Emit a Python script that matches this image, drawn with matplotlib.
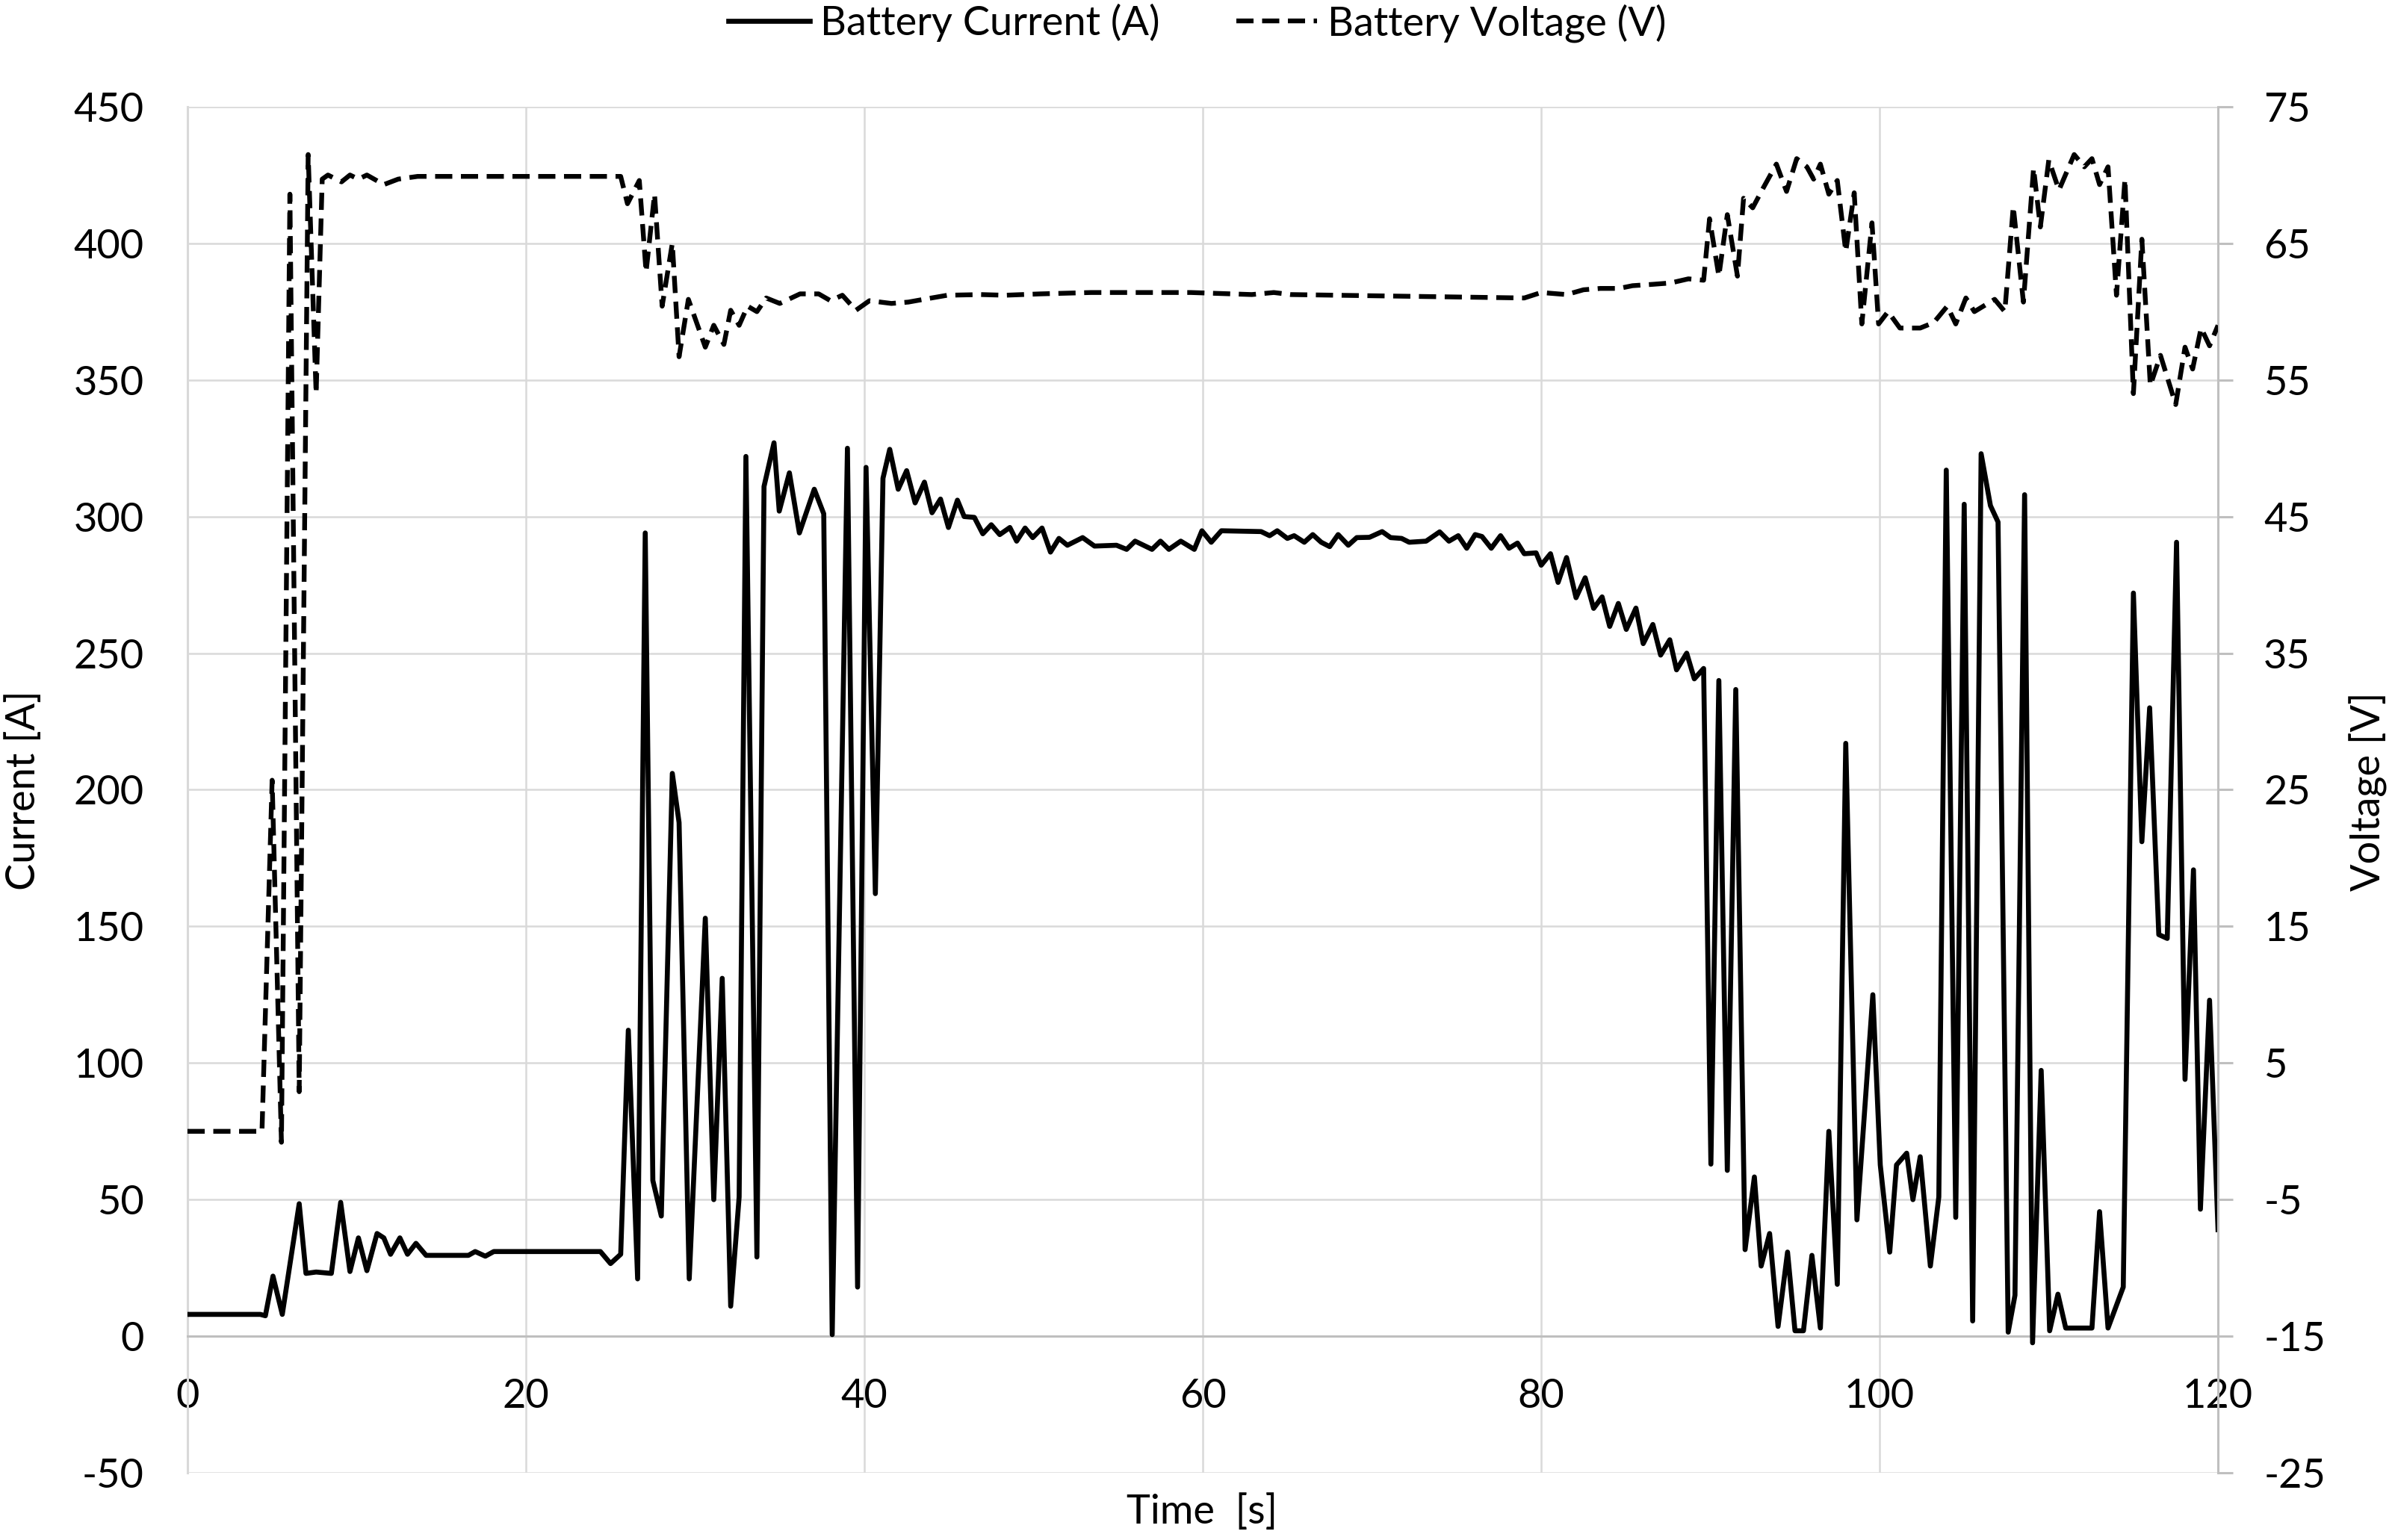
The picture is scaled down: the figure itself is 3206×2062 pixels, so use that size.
import matplotlib
matplotlib.use("Agg")
import matplotlib.pyplot as plt

plt.rcParams['font.family'] = ['Lato', 'DejaVu Sans']
plt.rcParams['axes.unicode_minus'] = False

# battery current (A)
t_cur = [0, 4.3, 4.6, 5.05, 5.6, 6.6, 7.0, 7.6, 8.5, 9.05, 9.6, 10.1, 10.6, 11.2, 11.6,
         12.0, 12.55, 13.0, 13.5, 14.1, 16.6, 17.0, 17.6, 18.1, 24.4, 25.0, 25.6, 26.05,
         26.6, 27.05, 27.5, 28.0, 28.65, 29.05, 29.65, 30.6, 31.1, 31.6, 32.1, 32.6, 33.0,
         33.65, 34.07, 34.66, 34.97, 35.57, 36.16, 37.04, 37.6, 38.1, 39.0, 39.6, 40.1,
         40.65, 41.1, 41.5, 42.0, 42.5, 43.0, 43.55, 44.0, 44.5, 44.97, 45.5, 45.9, 46.5,
         47.0, 47.5, 48.0, 48.6, 49.0, 49.5, 49.95, 50.5, 51.0, 51.5, 52.0, 52.9, 53.6,
         54.9, 55.5, 56.0, 57.0, 57.5, 58.0, 58.7, 59.5, 59.95, 60.5, 61.1, 63.45, 63.95,
         64.4, 65.0, 65.4, 66.0, 66.5, 67.0, 67.5, 68.0, 68.6, 69.1, 69.85, 70.6, 71.1,
         71.75, 72.2, 73.2, 74.0, 74.55, 75.1, 75.6, 76.1, 76.5, 77.05, 77.6, 78.1, 78.6,
         79.0, 79.7, 80.0, 80.55, 81.0, 81.5, 82.06, 82.6, 83.1, 83.6, 84.05, 84.56, 85.03,
         85.6, 86.03, 86.6, 87.06, 87.6, 88.0, 88.6, 89.05, 89.6, 90.03, 90.5, 91.0, 91.5,
         92.05, 92.6, 93.0, 93.5, 94.0, 94.56, 95.0, 95.5, 96.0, 96.5, 97.0, 97.5, 98.0,
         98.66, 99.6, 100.04, 100.6, 101.0, 101.6, 101.97, 102.4, 103.0, 103.5, 103.94,
         104.5, 105.0, 105.5, 106.0, 106.55, 107.0, 107.6, 108.0, 108.57, 109.04, 109.55,
         110.05, 110.54, 111.0, 112.55, 113.0, 113.5, 114.4, 115.0, 115.5, 115.96, 116.5,
         117.0, 117.55, 118.05, 118.55, 118.96, 119.5, 120.0]
current = [8, 8, 7.5, 22, 8, 48.5, 23, 23.5, 23, 49, 23.7, 36, 24, 37.6, 36,
           30, 36, 30, 34, 29.6, 29.6, 31, 29.3, 31, 31, 26.6, 30, 112,
           21, 294, 57, 44, 206, 188, 21, 153, 50, 131, 11, 51, 322,
           29, 311, 327, 302, 316, 294, 310, 301, 0.6, 325, 18, 318,
           162, 314, 324.6, 310, 316.8, 305, 312.6, 301.4, 306.4, 296, 306, 300, 299.7,
           293.7, 297, 293.4, 296, 291, 295.8, 292.3, 295.8, 287, 292, 289.5, 292.3, 289.2,
           289.5, 288, 291, 288, 291, 288, 291, 288, 294.8, 290.6, 294.8, 294.5, 293,
           294.8, 292, 293, 290.6, 293.4, 290.6, 289, 293.4, 289.5, 292.3, 292.4, 294.5, 292.3,
           292, 290.6, 291, 294.4, 291, 293, 288.4, 293.4, 292.7, 288.4, 293, 288.4, 290.3,
           286.4, 286.7, 282.2, 286.4, 275.9, 285, 270.3, 277.6, 266.4, 270.6, 259.8, 268.2, 258.7,
           266.5, 253.5, 260.5, 249.3, 254.9, 243.9, 250, 240.6, 244.4, 63, 240, 60.7, 236.7,
           31.7, 58.3, 25.7, 37.6, 3.6, 30.8, 2, 2, 29.6, 3, 75, 19, 217,
           42.6, 125, 62.7, 30.8, 62.7, 67, 50, 65.7, 25.7, 51, 317,
           43.5, 304.5, 5.6, 323, 304, 298, 1.5, 15, 308, -2.4, 97.3,
           2, 15.4, 3, 3, 45.6, 3, 18, 272, 181, 230, 147,
           145.6, 290.6, 94, 170.7, 46.5, 123, 39]

# battery voltage (V)
t_volt = [0, 4.4, 5.0, 5.55, 6.05, 6.6, 7.13, 7.6, 7.96, 8.3, 9.1, 9.6, 10.1, 10.6, 11.6,
          12.45, 13.6, 25.6, 26.0, 26.7, 27.1, 27.6, 28.05, 28.65, 29.05, 29.6, 30.6, 31.1,
          31.7, 32.1, 32.6, 33.1, 33.65, 34.2, 35.0, 36.2, 37.3, 38.0, 38.7, 39.5, 40.3,
          41.6, 42.6, 43.5, 44.9, 46.9, 48.3, 50.4, 53.4, 59.3, 62.9, 64.2, 65.2, 79.0,
          80.0, 81.5, 82.5, 83.5, 84.6, 85.4, 86.6, 87.65, 88.7, 89.6, 89.95, 90.5, 91.0,
          91.6, 91.96, 92.5, 93.1, 93.9, 94.5, 95.1, 95.7, 96.1, 96.5, 97.0, 97.5, 98.0,
          98.5, 98.95, 99.55, 99.94, 100.5, 101.2, 102.4, 103.2, 104.0, 104.5, 105.1, 105.6,
          106.8, 107.4, 107.9, 108.5, 109.1, 109.5, 110.0, 110.6, 111.5, 112.1, 112.55, 113.0,
          113.5, 114.0, 114.5, 115.0, 115.5, 116.0, 116.6, 117.5, 118.05, 118.5, 119.0, 119.5,
          120.0]
voltage = [0, 0, 25.7, -0.8, 68.6, 2.9, 71.5, 54, 69.7, 70, 69.5, 70, 69.7, 70, 69.3,
           69.7, 69.9, 69.9, 67.9, 69.6, 62.9, 68.6, 60.4, 65, 56.7, 60.9, 57.4, 59,
           57.6, 60.1, 59, 60.4, 60, 61, 60.6, 61.3, 61.3, 60.8, 61.2, 60.1, 60.8,
           60.6, 60.7, 60.9, 61.2, 61.25, 61.2, 61.3, 61.4, 61.4, 61.25, 61.4, 61.25, 61.0,
           61.4, 61.25, 61.6, 61.7, 61.7, 61.9, 62.0, 62.1, 62.4, 62.3, 66.8, 62.6, 67.1,
           62.6, 68.3, 67.6, 69.0, 70.8, 68.8, 71.2, 70.6, 69.7, 70.8, 68.6, 69.6, 64.4,
           68.7, 59.1, 66.5, 59.1, 60, 58.8, 58.8, 59.2, 60.4, 59.1, 61, 60,
           60.9, 60, 67.7, 60.7, 70.5, 66.2, 71.1, 68.9, 71.5, 70.6, 71.2, 69.3,
           70.6, 61.2, 69.7, 54, 65.3, 54.6, 56.8, 53.2, 57.4, 55.8, 58.8, 57.5,
           59]

fig = plt.figure(figsize=(16.03, 10.31), dpi=200)
ax = fig.add_axes([0.0783, 0.0436, 0.8478, 0.8871])
ax2 = ax.twinx()

fs = 19.5
grid_c = '#d9d9d9'
axis_c = '#bfbfbf'

ax.set_xlim(0, 120)
ax.set_ylim(-50, 450)
ax.set_xticks(range(0, 121, 20))
ax.set_yticks(range(-50, 451, 50))
ax.grid(True, color=grid_c, lw=0.9)
ax.set_axisbelow(True)
for s in ['top', 'right']:
    ax.spines[s].set_visible(False)
ax.spines['left'].set_color(grid_c)
ax.spines['left'].set_linewidth(1.1)
ax.spines['bottom'].set_position(('data', 0))
ax.spines['bottom'].set_color(axis_c)
ax.spines['bottom'].set_linewidth(1.1)
ax.tick_params(axis='x', length=0, pad=20, labelsize=fs)
ax.tick_params(axis='y', length=0, pad=21, labelsize=fs)

ax2.set_ylim(-25, 75)
ax2.set_yticks(range(-25, 76, 10))
for s in ['top', 'left', 'bottom']:
    ax2.spines[s].set_visible(False)
ax2.spines['right'].set_color(axis_c)
ax2.spines['right'].set_linewidth(1.1)
ax2.tick_params(axis='y', direction='out', length=7.2, width=1.1, color=axis_c,
                pad=14.8, labelsize=fs)

l1, = ax.plot(t_cur, current, color='black', lw=2.4, solid_joinstyle='round',
              label='Battery Current (A)', zorder=3)
l2, = ax2.plot(t_volt, voltage, color='black', lw=2.3, linestyle=(0, (3.6, 1.8)),
               dash_capstyle='butt', label='Battery Voltage (V)', zorder=3)

fig.text(31 / 3206, 0.487, 'Current [A]', rotation=90, ha='center', va='center', fontsize=fs)
fig.text(3170 / 3206, 0.486, 'Voltage [V]', rotation=90, ha='center', va='center', fontsize=fs)
fig.text(0.502, 1 - 2024 / 2062, 'Time  [s]', ha='center', va='center', fontsize=fs)

fig.legend(handles=[l1, l2], loc='center', bbox_to_anchor=(0.5, 0.985), ncol=2,
           frameon=False, fontsize=fs, handlelength=2.0, handletextpad=0.26,
           columnspacing=1.9)

fig.savefig('out.png', dpi=200)
